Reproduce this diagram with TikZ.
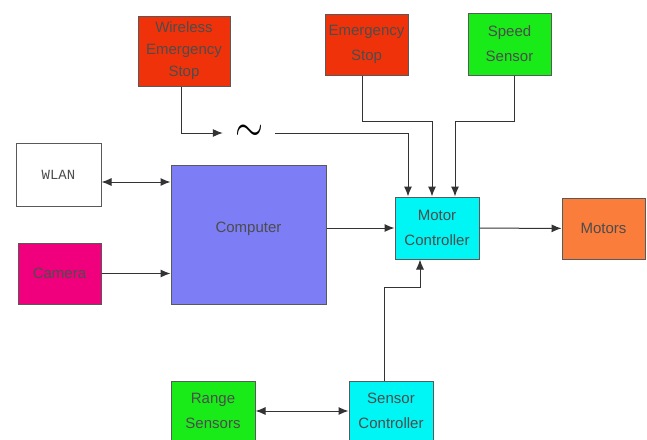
\documentclass[tikz,border=0pt]{standalone}
\usepackage{fontspec}
\setmainfont{Liberation Sans}
\setmonofont{Liberation Mono}
\usepackage{tikz,graphics}
\usetikzlibrary{arrows.meta}
\definecolor{stopred}{RGB}{240,50,10}
\definecolor{sensgreen}{RGB}{25,235,25}
\definecolor{ctrlcyan}{RGB}{0,245,245}
\definecolor{compblue}{RGB}{125,125,245}
\definecolor{campink}{RGB}{240,0,125}
\definecolor{motorange}{RGB}{250,125,60}

\begin{document}
\begin{tikzpicture}[x=1pt, y=-1pt, >={Latex[length=10pt,width=8pt]},
    block/.style={draw=black!65, line width=1pt, align=center, inner sep=1pt,
        text=black!70, font=\fontsize{15}{25}\selectfont},
    wire/.style={draw=black!80, line width=1pt}]

    \useasboundingbox (0, 0) rectangle (647, 439);

    \node[block, fill=stopred, minimum width=92, minimum height=70, font=\fontsize{15}{22}\selectfont] (wes) at (184, 51) {Wireless\\Emergency\\Stop};
    \node[block, fill=stopred, minimum width=83, minimum height=61] (es) at (366.5, 44.5) {Emergency\\Stop};
    \node[block, fill=sensgreen, minimum width=83, minimum height=62] (speed) at (509.5, 44) {Speed\\Sensor};
    \node[block, fill=white, minimum width=85, minimum height=63, font=\ttfamily\fontsize{14}{15}\selectfont] (wlan) at (58.5, 174.5) {WLAN};
    \node[block, fill=campink, minimum width=83, minimum height=61] (camera) at (59.5, 273.5) {Camera};
    \node[block, fill=compblue, minimum width=155, minimum height=139] (comp) at (248.5, 234.5) {Computer\\[-10pt]};
    \node[block, fill=ctrlcyan, minimum width=84, minimum height=62] (mc) at (437, 228) {Motor\\Controller};
    \node[block, fill=motorange, minimum width=83, minimum height=61] (motors) at (603.5, 228.5) {Motors};
    \node[block, fill=sensgreen, minimum width=84, minimum height=60] (range) at (213, 411) {Range\\Sensors};
    \node[block, fill=ctrlcyan, minimum width=84, minimum height=60] (sc) at (391, 411) {Sensor\\Controller};
    \node[minimum width=52, inner sep=0pt] (tilde) at (249, 133) {\scalebox{3.6}[4.5]{$\sim$}};

    \draw [wire, ->] ([xshift=-3pt]wes.south) |- (tilde.west);
    \draw [wire, ->] (tilde.east) -| ([xshift=-29pt]mc.north);
    \draw [wire, ->] ([xshift=-4pt]es.south) -- ++(0, 46) -| ([xshift=-5pt]mc.north);
    \draw [wire, ->] ([xshift=5pt]speed.south) -- ++(0, 46) -| ([xshift=18pt]mc.north);
    \draw [wire, <->] ([yshift=-7.5pt]wlan.east) -- ([yshift=-7.5pt]wlan.east -| comp.west);
    \draw [wire, ->] (camera) -- (camera -| comp.west);
    \draw [wire, ->] (mc -| comp.east) -- (mc);
    \draw [wire, ->] (mc) -- (motors);
    \draw [wire, ->] ([xshift=-7pt]sc.north) -- ++(0, -93) -| ([xshift=-17pt]mc.south);
    \draw [wire, <->] (range) -- (sc);

\end{tikzpicture}
\end{document}
